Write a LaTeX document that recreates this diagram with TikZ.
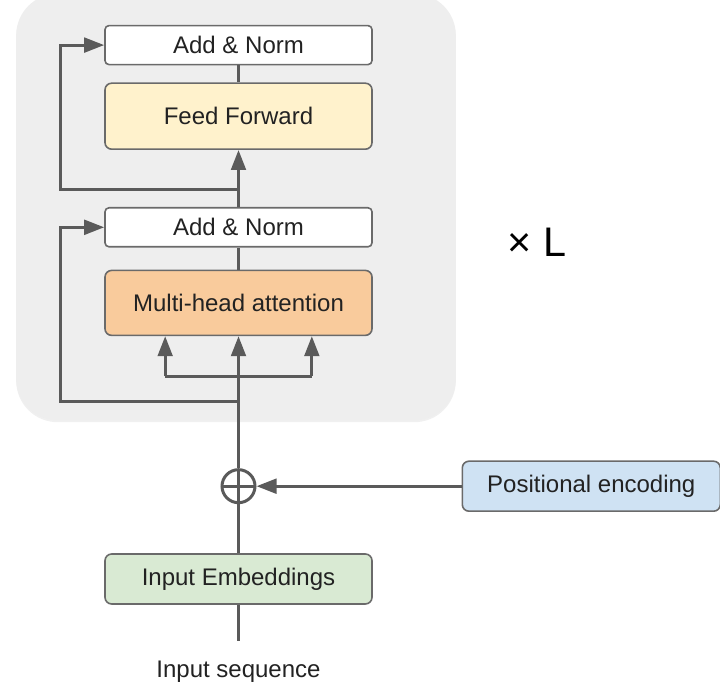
\documentclass[tikz,border=0pt]{standalone}
\usepackage{fontspec}
\setmainfont{Liberation Sans}
\usepackage{xcolor}
\usetikzlibrary{arrows.meta,positioning,calc,shadows,backgrounds}

\definecolor{lineG}{HTML}{5A5A5A}
\definecolor{edgeG}{HTML}{6A6A6A}
\definecolor{textG}{HTML}{222222}
\definecolor{bgG}{HTML}{EEEEEE}
\definecolor{ffY}{HTML}{FFF2CC}
\definecolor{mhaO}{HTML}{F9CB9C}
\definecolor{embG}{HTML}{D9EAD3}
\definecolor{posB}{HTML}{CFE2F3}

\begin{document}
\begin{tikzpicture}[
  x=0.75pt, y=0.75pt,
  >={Triangle[length=15pt,width=11pt]},
  % block styles; fills are set per node below
  B/.style={rectangle, rounded corners=5pt, draw=edgeG, line width=1.2pt,
            minimum width=200.25pt, minimum height=37.5pt, inner sep=2pt,
            text=textG, font=\fontsize{18}{21}\selectfont},
  AN/.style={B, rounded corners=3pt, fill=white, minimum height=29.25pt},
  O/.style={circle, draw=lineG, line width=2.25pt, minimum size=24.75pt,
            inner sep=0pt,
            path picture={\draw[lineG, line width=2.25pt]
              (path picture bounding box.north) -- (path picture bounding box.south)
              (path picture bounding box.west) -- (path picture bounding box.east);}},
  L/.style={draw=lineG, line width=2.25pt},
  T/.style={text=textG, font=\fontsize{18}{21}\selectfont, inner sep=0pt},
]
\useasboundingbox (0,0) rectangle (720,695);

%% -- Input side ----------------------------------------------------
\node[B, fill=embG] (emb) at (238.5,116) {Input Embeddings};
\node[O, above=36.75pt of emb] (add) {};
\node[B, fill=posB, minimum width=193.5pt, right=153.75pt of add] (pos) {Positional encoding};
\coordinate[below=27pt of emb.south] (seqin);
\node[T, below=15pt of seqin] (seq) {Input sequence};

%% -- Encoder layer -------------------------------------------------
\node[B, fill=mhaO, minimum height=48.75pt, above=99pt of add] (mha) {Multi-head attention};
\node[AN, above=16.5pt of mha] (norm1) {Add \& Norm};
\node[B, fill=ffY, minimum height=49.5pt, above=42.75pt of norm1] (ffn) {Feed Forward};
\node[AN, above=12.75pt of ffn] (norm2) {Add \& Norm};

\node[text=black, font=\fontsize{31}{36}\selectfont, inner sep=0pt] (rep) at (537,453) {× L};

%% -- Branch points -------------------------------------------------
\coordinate[below=48.75pt of mha.south] (skipA);
\coordinate[below=30pt of mha.south] (fork);
\coordinate[left=55pt of fork] (forkL);
\coordinate[right=55pt of fork] (forkR);
\coordinate[below=30pt of ffn.south] (skipB);
\coordinate[left=33pt of norm1.west] (byA);
\coordinate[left=33pt of norm2.west] (byB);

%% -- Layer background ----------------------------------------------
\begin{scope}[on background layer]
  \path[fill=bgG, rounded corners=31pt,
        drop shadow={shadow xshift=0pt, shadow yshift=-1.5pt, opacity=0.12}]
    ($(norm2.north west)+(-88,31)$) rectangle ($(mha.south east)+(83,-84)$);
\end{scope}

%% -- Connectors ----------------------------------------------------
\draw[L] (seqin) -- (emb);
\draw[L] (emb) -- (add);
\draw[L,->] (pos) -- (add);
\draw[L,->] (add) -- (mha);
\draw[L] (forkL) -- (forkR);
\draw[L,->] (forkL) -- (forkL |- mha.south);
\draw[L,->] (forkR) -- (forkR |- mha.south);
\draw[L,->] (skipA) -| (byA) -- (norm1.west);
\draw[L] (mha) -- (norm1);
\draw[L,->] (norm1) -- (ffn);
\draw[L,->] (skipB) -| (byB) -- (norm2.west);
\draw[L] (ffn) -- (norm2);

\end{tikzpicture}
\end{document}
